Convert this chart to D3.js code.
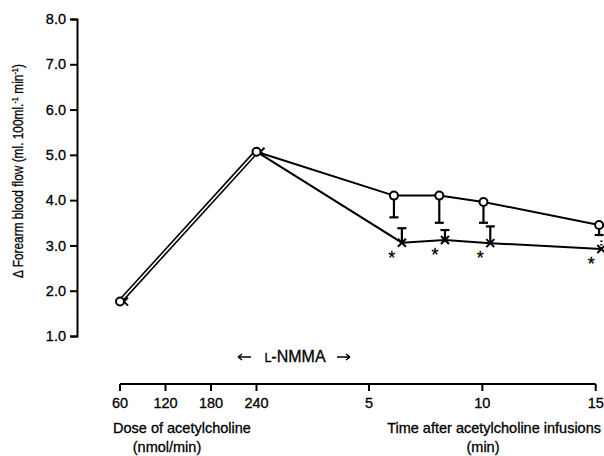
<!DOCTYPE html>
<html>
<head>
<meta charset="utf-8">
<script src="https://cdn.jsdelivr.net/npm/d3@7"></script>
<style>
  body { margin: 0; background: #fff; }
  text { font-family: "Liberation Sans", Arial, sans-serif; fill: #000; stroke: #000; stroke-width: 0.3px; }
</style>
</head>
<body>
<script>

// dose part (nmol/min) and time part (min after infusions)
var doseTicks = [60, 120, 180, 240];
var timeTicks = [5, 10, 15];
var yTicks = [1, 2, 3, 4, 5, 6, 7, 8];

// open circles
var circDose = [60, 240];
var circDoseVal = [1.76, 5.07];
var circTime = [6.1, 8.1, 10.05, 15.15];
var circTimeVal = [4.10, 4.10, 3.96, 3.45];
var circErrLow = [3.62, 3.50, 3.50, 3.23];

// crosses (L-NMMA)
var crossDose = [60, 240];
var crossDoseVal = [1.76, 5.07];
var crossTime = [6.45, 8.35, 10.35, 15.25];
var crossTimeVal = [3.06, 3.12, 3.05, 2.92];
var crossErrHigh = [3.38, 3.34, 3.42, 3.15];

var width = 604, height = 456;

var svg = d3.select("body").append("svg")
    .attr("width", width)
    .attr("height", height);

var y = d3.scaleLinear().domain([1, 8]).range([336, 19]);
var xDose = d3.scaleLinear().domain([60, 240]).range([120, 256.5]);
var xTime = d3.scaleLinear().domain([5, 15]).range([369, 595.7]);

// y axis
var yAxis = svg.append("g")
    .attr("transform", "translate(77,0)")
    .call(d3.axisLeft(y).tickValues(yTicks).tickFormat(d3.format(".1f")).tickSizeOuter(0).tickSize(7).tickPadding(4));
yAxis.select(".domain").attr("stroke-width", 2);
yAxis.selectAll(".tick line").attr("stroke-width", 2);
yAxis.selectAll("text").attr("font-size", 14.5).attr("font-family", "Liberation Sans, Arial, sans-serif");

svg.append("text")
    .attr("transform", "translate(23,171) rotate(-90) scale(0.82,1)")
    .attr("text-anchor", "middle")
    .attr("font-size", 14.5)
    .html("&#916; Forearm blood flow (ml. 100ml.<tspan dy='-5' font-size='9'>-1</tspan><tspan dy='5'> min</tspan><tspan dy='-5' font-size='9'>-1</tspan><tspan dy='5'>)</tspan>");

// bottom axis
var axY = 384;
svg.append("line")
    .attr("x1", xDose(60)).attr("x2", xTime(15))
    .attr("y1", axY).attr("y2", axY)
    .attr("stroke", "#000").attr("stroke-width", 2);

var tickG = svg.append("g");
doseTicks.forEach(function(d) {
  tickG.append("line").attr("x1", xDose(d)).attr("x2", xDose(d))
    .attr("y1", axY).attr("y2", axY + 7).attr("stroke", "#000").attr("stroke-width", 2);
  tickG.append("text").attr("x", xDose(d)).attr("y", 408)
    .attr("text-anchor", "middle").attr("font-size", 14.5).text(d);
});
timeTicks.forEach(function(d) {
  tickG.append("line").attr("x1", xTime(d)).attr("x2", xTime(d))
    .attr("y1", axY).attr("y2", axY + 7).attr("stroke", "#000").attr("stroke-width", 2);
  tickG.append("text").attr("x", xTime(d)).attr("y", 408)
    .attr("text-anchor", "middle").attr("font-size", 14.5).text(d);
});

svg.append("text").attr("x", 113).attr("y", 433).attr("font-size", 14.5).text("Dose of acetylcholine");
svg.append("text").attr("x", 167).attr("y", 452).attr("text-anchor", "middle").attr("font-size", 14.5).text("(nmol/min)");
svg.append("text").attr("x", 601).attr("y", 433).attr("text-anchor", "end").attr("font-size", 14.5).text("Time after acetylcholine infusions");
svg.append("text").attr("x", 483).attr("y", 452).attr("text-anchor", "middle").attr("font-size", 14.5).text("(min)");

// L-NMMA label with arrows
svg.append("text").attr("x", 295).attr("y", 362).attr("text-anchor", "middle").attr("font-size", 16)
    .html("<tspan font-size='12.5'>L</tspan>-NMMA");
var arrowY = 357;
svg.append("path")
    .attr("d", "M238," + arrowY + "H251M238," + arrowY + "l4,-3M238," + arrowY + "l4,3")
    .attr("fill", "none").attr("stroke", "#000").attr("stroke-width", 1.5);
svg.append("path")
    .attr("d", "M337," + arrowY + "H350M350," + arrowY + "l-4,-3M350," + arrowY + "l-4,3")
    .attr("fill", "none").attr("stroke", "#000").attr("stroke-width", 1.5);

// points as pixel arrays
var circPts = circDose.map(function(d, i) { return [xDose(d), y(circDoseVal[i])]; })
    .concat(circTime.map(function(d, i) { return [xTime(d), y(circTimeVal[i])]; }));
var crossPts = crossDose.map(function(d, i) { return [xDose(d), y(crossDoseVal[i])]; })
    .concat(crossTime.map(function(d, i) { return [xTime(d), y(crossTimeVal[i])]; }));

var line = d3.line();

// shared dose segment drawn as a double line
svg.append("path").attr("d", line(circPts.slice(0, 2)))
    .attr("fill", "none").attr("stroke", "#000").attr("stroke-width", 4.8);
svg.append("path").attr("d", line(circPts.slice(0, 2)))
    .attr("fill", "none").attr("stroke", "#fff").attr("stroke-width", 1.6);

svg.append("path").attr("d", line(circPts.slice(1)))
    .attr("fill", "none").attr("stroke", "#000").attr("stroke-width", 2);
svg.append("path").attr("d", line(crossPts.slice(1)))
    .attr("fill", "none").attr("stroke", "#000").attr("stroke-width", 2);

// error bars
circTime.forEach(function(d, i) {
  var cx = xTime(d), y0 = y(circTimeVal[i]) + 4, y1 = y(circErrLow[i]);
  svg.append("line").attr("x1", cx).attr("x2", cx).attr("y1", y0).attr("y2", y1)
    .attr("stroke", "#000").attr("stroke-width", 2.2);
  svg.append("line").attr("x1", cx - 4.5).attr("x2", cx + 4.5).attr("y1", y1).attr("y2", y1)
    .attr("stroke", "#000").attr("stroke-width", 2.2);
});
crossTime.forEach(function(d, i) {
  var cx = xTime(d), y0 = y(crossTimeVal[i]), y1 = y(crossErrHigh[i]);
  var last = i == crossTime.length - 1;
  svg.append("line").attr("x1", cx).attr("x2", cx).attr("y1", y0).attr("y2", y1)
    .attr("stroke", "#000").attr("stroke-width", 2.2)
    .attr("stroke-dasharray", last ? "1.5,2" : null);
  if (!last) {
    svg.append("line").attr("x1", cx - 4.5).attr("x2", cx + 4.5).attr("y1", y1).attr("y2", y1)
      .attr("stroke", "#000").attr("stroke-width", 2.2);
  }
});

// cross markers
crossPts.forEach(function(p, i) {
  var px = p[0] + (i < 2 ? 4 : 0);
  svg.append("path")
    .attr("d", "M" + (px - 4) + "," + (p[1] - 4) + "L" + (px + 4) + "," + (p[1] + 4) +
               "M" + (px + 4) + "," + (p[1] - 4) + "L" + (px - 4) + "," + (p[1] + 4))
    .attr("stroke", "#000").attr("stroke-width", 2);
});

// circle markers
svg.selectAll("circle.c").data(circPts).enter().append("circle")
    .attr("cx", function(d) { return d[0]; })
    .attr("cy", function(d) { return d[1]; })
    .attr("r", 4)
    .attr("fill", "#fff").attr("stroke", "#000").attr("stroke-width", 2);

// significance asterisks
crossTime.forEach(function(d, i) {
  svg.append("text").attr("x", xTime(d) - 10).attr("y", y(crossTimeVal[i]) + 21)
    .attr("text-anchor", "middle").attr("font-size", 18).text("*");
});

</script>
</body>
</html>
